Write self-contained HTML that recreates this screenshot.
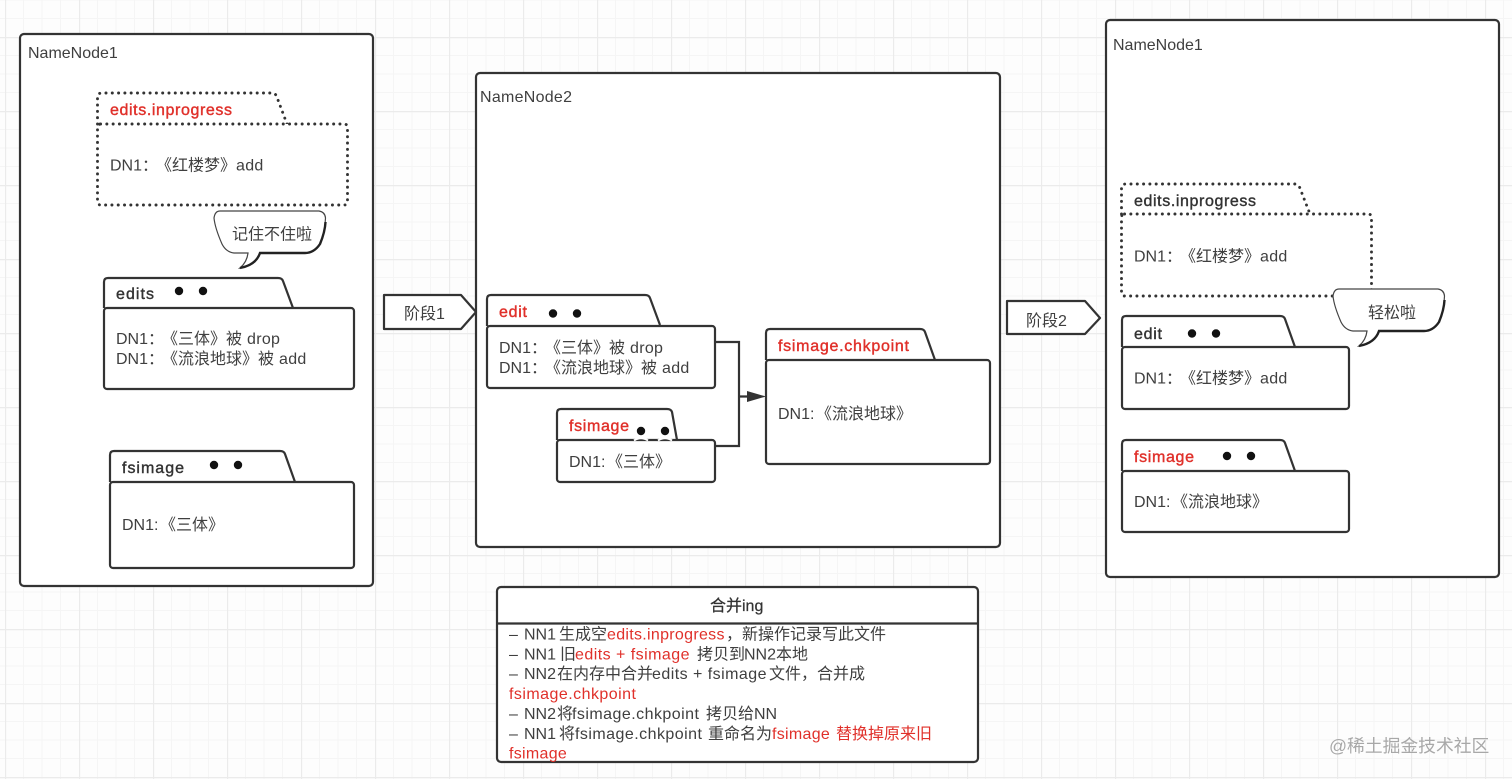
<!DOCTYPE html>
<html><head><meta charset="utf-8"><style>
html,body{margin:0;padding:0;background:#fff;width:1512px;height:779px;overflow:hidden}
svg{display:block;filter:blur(.35px)}
text{font-family:"Liberation Sans","Noto Sans CJK SC",sans-serif;font-size:16px;fill:#3f3f3f;text-spacing-trim:space-all;font-feature-settings:"chws" 0,"palt" 0}
.r{fill:#e0302a}
.b{fill:#333;stroke:#333;stroke-width:.4}
.rb{fill:#e0302a;stroke:#e0302a;stroke-width:.4}
.box{fill:#fff;stroke:#333;stroke-width:2.2;stroke-linejoin:round}
.dot{fill:#fff;stroke:#333;stroke-width:2.9;stroke-dasharray:.1 6.2;stroke-linecap:round;stroke-linejoin:round}
.s3{letter-spacing:.3px}.s4{letter-spacing:.46px}
</style></head><body>
<svg width="1512" height="779" viewBox="0 0 1512 779" xmlns="http://www.w3.org/2000/svg">
<defs>
<pattern id="g" x="5" y="37" width="74" height="74" patternUnits="userSpaceOnUse">
<path d="M18.5 0V74M37 0V74M55.5 0V74M0 18.5H74M0 37H74M0 55.5H74" stroke="#f5f5f5" stroke-width="1" fill="none"/>
<path d="M.5 0V74M0 .5H74" stroke="#ebebeb" stroke-width="1.4" fill="none"/>
</pattern>
</defs>
<rect width="1512" height="779" fill="#fdfdfd"/>
<rect width="1512" height="779" fill="url(#g)"/>

<!-- containers -->
<rect class="box" x="20" y="34" width="353" height="552" rx="4"/>
<rect class="box" x="476" y="73" width="524" height="474" rx="4"/>
<rect class="box" x="1106" y="20" width="393" height="557" rx="4"/>
<text x="28" y="58">NameNode1</text>
<text x="480" y="102" textLength="92">NameNode2</text>
<text x="1113" y="50">NameNode1</text>

<!-- NN1 inprogress -->
<path class="dot" d="M97.5 124V97Q97.5 93 102 93H272Q275 93 276.5 96L287 124"/>
<rect class="dot" x="97.5" y="124" width="250" height="81" rx="3"/>
<text class="rb" x="110" y="115" textLength="122">edits.inprogress</text>
<text x="110" y="170.500">DN1<tspan x="142">：</tspan><tspan x="156">《红楼梦》</tspan><tspan x="236" class="s3">add</tspan></text>

<!-- bubble 1 -->
<path d="M220 211H319Q325 212 325.500 218Q325 232 320 244Q314 253 305 253H260Q256 265 240 268Q247 262 248 253H234Q226 252 222 244Q215 228 214 218Q215 211 220 211Z" fill="#fff" stroke="#444" stroke-width="1.200"/>
<path d="M325.500 222Q325 232 320 244Q314 253 305 253H260Q256 265 240 268" fill="none" stroke="#222" stroke-width="2.400"/>
<text x="232" y="239.500">记住不住啦</text>

<!-- NN1 edits -->
<path class="box" d="M104 308V282Q104 278 108 278H278Q282 278 283 281L293 308"/>
<rect class="box" x="104" y="308" width="250" height="81" rx="3"/>
<text class="b" x="116" y="299" textLength="38">edits</text>
<circle cx="179" cy="291" r="4.200" fill="#111"/><circle cx="203" cy="291" r="4.200" fill="#111"/>
<text x="116" y="344">DN1<tspan x="148">：</tspan><tspan x="162">《三体》被</tspan><tspan x="247" class="s3">drop</tspan></text>
<text x="116" y="364">DN1<tspan x="148">：</tspan><tspan x="162">《流浪地球》被</tspan><tspan x="279" class="s3">add</tspan></text>

<!-- NN1 fsimage -->
<path class="box" d="M110 482V455Q110 451 114 451H280Q284 451 285 454L295 482"/>
<rect class="box" x="110" y="482" width="244" height="86" rx="3"/>
<text class="b" x="122" y="473" textLength="62">fsimage</text>
<circle cx="214" cy="465" r="4.200" fill="#111"/><circle cx="238" cy="465" r="4.200" fill="#111"/>
<text x="122" y="530">DN1:<tspan x="160">《三体》</tspan></text>

<!-- arrow 1 -->
<path class="box" d="M384 295H461L476 312L461 329H384Z"/>
<text x="404" y="319">阶段1</text>

<!-- connector -->
<path d="M715 342H739V446H715M739 396.500H750" fill="none" stroke="#333" stroke-width="2.200"/>
<path d="M747 391L766 396.500L747 402Z" fill="#333"/>

<!-- NN2 edit -->
<path class="box" d="M487 326V299Q487 295 491 295H645Q649 295 650 298L660 325"/>
<rect class="box" x="487" y="326" width="228" height="62" rx="3"/>
<text class="rb" x="499" y="317" textLength="28">edit</text>
<circle cx="553" cy="313.500" r="4.200" fill="#111"/><circle cx="577" cy="313.500" r="4.200" fill="#111"/>
<text x="499" y="353">DN1<tspan x="531">：</tspan><tspan x="545">《三体》被</tspan><tspan x="630" class="s3">drop</tspan></text>
<text x="499" y="373">DN1<tspan x="531">：</tspan><tspan x="545">《流浪地球》被</tspan><tspan x="662" class="s3">add</tspan></text>

<!-- NN2 fsimage -->
<path class="box" d="M557 440V413Q557 409 561 409H667Q671 409 672 412L677 440"/>
<rect class="box" x="557" y="440" width="158" height="42" rx="3"/>
<path d="M634 440.500Q641 436 648 440.500M658 440.500Q665 436 672 440.500" fill="none" stroke="#fff" stroke-width="2"/>
<text class="rb" x="569" y="431" textLength="60">fsimage</text>
<circle cx="641" cy="431" r="4.200" fill="#111"/><circle cx="665" cy="431" r="4.200" fill="#111"/>
<text x="569" y="467">DN1:<tspan x="607">《三体》</tspan></text>

<!-- chkpoint -->
<path class="box" d="M766 360V333Q766 329 770 329H920Q924 329 925 332L935 360"/>
<rect class="box" x="766" y="360" width="224" height="104" rx="3"/>
<text class="rb" x="778" y="351" textLength="131">fsimage.chkpoint</text>
<text x="778" y="419">DN1:<tspan x="816">《流浪地球》</tspan></text>

<!-- arrow 2 -->
<path class="box" d="M1007 301H1085L1100 318L1085 334H1007Z"/>
<text x="1026" y="326">阶段2</text>

<!-- NN3 inprogress -->
<path class="dot" d="M1121.500 214V188Q1121.500 184 1126 184H1295Q1298 184 1299.500 187L1310 214"/>
<rect class="dot" x="1121.500" y="214" width="250" height="82" rx="3"/>
<text class="b" x="1134" y="206" textLength="122">edits.inprogress</text>
<text x="1134" y="261.500">DN1<tspan x="1166">：</tspan><tspan x="1180">《红楼梦》</tspan><tspan x="1260" class="s3">add</tspan></text>

<!-- NN3 edit -->
<path class="box" d="M1122 347V320Q1122 316 1126 316H1280Q1284 316 1285 319L1295 347"/>
<rect class="box" x="1122" y="347" width="227" height="62" rx="3"/>
<text class="b" x="1134" y="339" textLength="28">edit</text>
<circle cx="1192" cy="333.500" r="4.200" fill="#111"/><circle cx="1216" cy="333.500" r="4.200" fill="#111"/>
<text x="1134" y="383.500">DN1<tspan x="1166">：</tspan><tspan x="1180">《红楼梦》</tspan><tspan x="1260" class="s3">add</tspan></text>

<!-- bubble 2 -->
<path d="M1339 289H1438Q1444 290 1444.500 296Q1444 310 1439 322Q1433 331 1424 331H1379Q1375 343 1359 346Q1366 340 1367 331H1353Q1345 330 1341 322Q1334 306 1333 296Q1334 289 1339 289Z" fill="#fff" stroke="#444" stroke-width="1.200"/>
<path d="M1444.500 300Q1444 310 1439 322Q1433 331 1424 331H1379Q1375 343 1359 346" fill="none" stroke="#222" stroke-width="2.400"/>
<text x="1368" y="318">轻松啦</text>

<!-- NN3 fsimage -->
<path class="box" d="M1122 471V444Q1122 440 1126 440H1280Q1284 440 1285 443L1295 471"/>
<rect class="box" x="1122" y="471" width="227" height="61" rx="3"/>
<text class="rb" x="1134" y="462" textLength="60">fsimage</text>
<circle cx="1227" cy="456" r="4.200" fill="#111"/><circle cx="1251" cy="456" r="4.200" fill="#111"/>
<text x="1134" y="507">DN1:<tspan x="1172">《流浪地球》</tspan></text>

<!-- merge box -->
<rect class="box" x="497" y="587" width="481" height="175" rx="4"/>
<path d="M497 623.500H978" stroke="#333" stroke-width="2.200"/>
<text class="b" x="710" y="611" style="stroke-width:.25">合并ing</text>
<text x="509" y="639.500">–<tspan x="524">NN1</tspan><tspan x="559">生成空</tspan><tspan x="607" class="r s3">edits.inprogress</tspan><tspan x="726">，</tspan><tspan x="742">新操作记录写此文件</tspan></text>
<text x="509" y="659.300">–<tspan x="524">NN1</tspan><tspan x="560">旧</tspan><tspan x="575" class="r s4">edits + fsimage</tspan><tspan x="697">拷贝到</tspan><tspan x="744">NN2</tspan><tspan x="776">本地</tspan></text>
<text x="509" y="679">–<tspan x="524">NN2</tspan><tspan x="557">在内存中合并</tspan><tspan x="652" class="s4">edits + fsimage</tspan><tspan x="769">文件，合并成</tspan></text>
<text class="r s4" x="509" y="699">fsimage.chkpoint</text>
<text x="509" y="719">–<tspan x="524">NN2</tspan><tspan x="557">将</tspan><tspan x="572" class="s4">fsimage.chkpoint</tspan><tspan x="706">拷贝给</tspan><tspan x="754">NN</tspan></text>
<text x="509" y="739">–<tspan x="524">NN1</tspan><tspan x="559">将</tspan><tspan x="575" class="s4">fsimage.chkpoint</tspan><tspan x="708">重命名为</tspan><tspan x="772" class="r s3">fsimage</tspan><tspan x="836" class="r">替换掉原来旧</tspan></text>
<text class="r s3" x="509" y="758.500">fsimage</text>

<!-- watermark -->
<text x="1329" y="752" style="font-size:17.800px;fill:#a8a8a8">@稀土掘金技术社区</text>
</svg>
</body></html>
